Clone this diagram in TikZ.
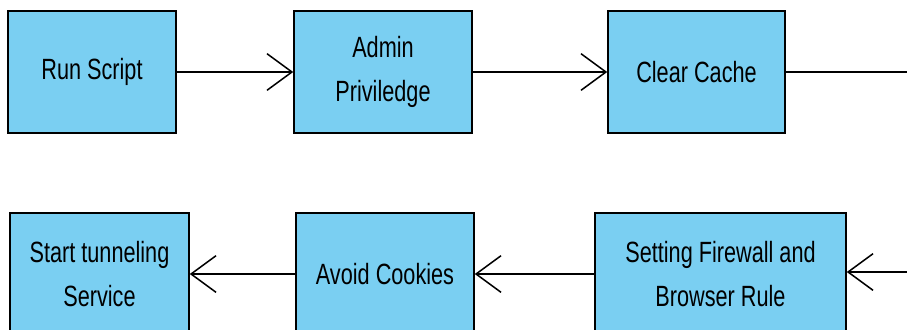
\documentclass[tikz,border=0pt]{standalone}
\usepackage{fontspec}
\setmainfont[FakeStretch=0.74]{Liberation Sans}
\usepackage{tikz}
\usetikzlibrary{arrows.meta}
\definecolor{boxblue}{RGB}{122,207,242}
\tikzset{
  stepbox/.style={draw=black, line width=1.3pt, fill=boxblue, align=center,
    minimum height=36.6mm, inner sep=0pt,
    font=\fontsize{25}{38}\selectfont},
  flow/.style={line width=1.3pt, -{Straight Barb[length=7.5mm, width=11mm, line width=1.3pt]}}
}

\begin{document}
\begin{tikzpicture}[x=0.3mm, y=-0.3mm]
\useasboundingbox (0, 0) rectangle (907, 329);
\clip (0, 0) rectangle (907, 329);
\node[stepbox, minimum width=50.4mm](run) at (92, 72) {Run Script};
\node[stepbox, minimum width=53.4mm](admin) at (383, 72) {Admin\\Priviledge};
\node[stepbox, minimum width=53.1mm](cache) at (696.5, 72) {Clear Cache};
\coordinate (outtop) at (907, 72);
\node[stepbox, minimum width=75.3mm](firewall) at (720.5, 274) {Setting Firewall and\\Browser Rule};
\node[stepbox, minimum width=53.4mm](cookies) at (385, 274) {Avoid Cookies};
\node[stepbox, minimum width=53.7mm](tunnel) at (99.5, 274) {Start tunneling\\Service};
\coordinate (inbottom) at (907, 272);
\draw[flow] (run) -- (admin);
\draw[flow] (admin) -- (cache);
\draw[line width=1.3pt] (cache) -- (outtop);
\draw[flow] (inbottom) -- (firewall.east |- inbottom);
\draw[flow] (firewall) -- (cookies);
\draw[flow] (cookies) -- (tunnel);
\end{tikzpicture}
\end{document}
